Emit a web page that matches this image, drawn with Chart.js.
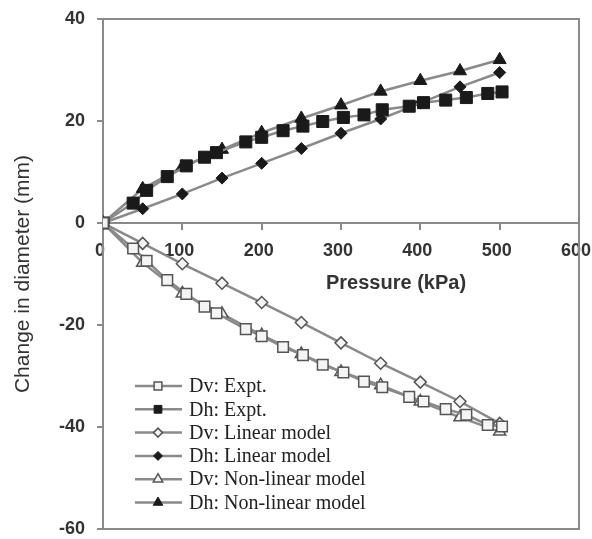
<!DOCTYPE html>
<html>
<head>
<meta charset="utf-8">
<script src="https://cdn.jsdelivr.net/npm/chart.js"></script>
<style>
  html, body { margin: 0; padding: 0; background: #fff; }
  #wrap { width: 592px; height: 539px; }
</style>
</head>
<body>
<div id="wrap"><canvas id="myChart" width="592" height="539"></canvas></div>
<script>
// pressures (kPa)
const exptPressure = [0, 38, 55, 81, 105, 128, 143, 180, 200, 227, 252, 277, 303, 329, 352, 386, 404, 432, 458, 485, 503];
const modelPressure = [0, 50, 100, 150, 200, 250, 300, 350, 400, 450, 500];

// change in diameter (mm)
const dvExpt = [0, -5.0, -7.4, -11.2, -13.9, -16.4, -17.7, -20.8, -22.2, -24.3, -25.9, -27.8, -29.3, -31.1, -32.2, -34.1, -35.0, -36.5, -37.6, -39.6, -39.9];
const dhExpt = [0, 3.9, 6.4, 9.1, 11.2, 12.9, 13.8, 15.9, 16.8, 18.1, 19.0, 19.9, 20.7, 21.2, 22.2, 22.9, 23.6, 24.1, 24.6, 25.4, 25.7];
const dvLinear = [0, -4.0, -8.0, -11.8, -15.6, -19.5, -23.5, -27.5, -31.2, -35.0, -39.3];
const dhLinear = [0, 2.8, 5.7, 8.8, 11.7, 14.6, 17.6, 20.4, 23.5, 26.7, 29.5];
const dvNonlinear = [0, -7.8, -13.8, -17.8, -22.0, -25.7, -29.2, -31.8, -35.0, -38.1, -40.9];
const dhNonlinear = [0, 6.7, 11.0, 14.4, 17.7, 20.5, 23.1, 25.8, 27.9, 29.8, 32.0];

const seriesLabels = ["Dv: Expt.", "Dh: Expt.", "Dv: Linear model", "Dh: Linear model", "Dv: Non-linear model", "Dh: Non-linear model"];
const xTicks = [0, 100, 200, 300, 400, 500, 600];
const yTicks = [-60, -40, -20, 0, 20, 40];

const lineGray = "#8a8a8a";
const dark = "#1a1a1a";

function pts(xs, ys) {
  return xs.map((x, i) => ({ x: x, y: ys[i] }));
}

function makeSet(label, xs, ys, style, filled, radius, legendRadius) {
  return {
    label: label,
    data: pts(xs, ys),
    borderColor: lineGray,
    borderWidth: 2.5,
    pointStyle: style,
    pointRadius: radius,
    pointHoverRadius: radius,
    pointBackgroundColor: filled ? dark : "#f4f4f4",
    pointBorderColor: filled ? dark : "#555",
    pointBorderWidth: filled ? 1 : 1.5,
    legendRadius: legendRadius,
    tension: 0,
    fill: false
  };
}

const datasets = [
  makeSet(seriesLabels[0], exptPressure, dvExpt, "rect", false, 7.5, 5.5),
  makeSet(seriesLabels[1], exptPressure, dhExpt, "rect", true, 8.5, 5.5),
  makeSet(seriesLabels[2], modelPressure, dvLinear, "rectRot", false, 6, 4.5),
  makeSet(seriesLabels[3], modelPressure, dhLinear, "rectRot", true, 6, 4.5),
  makeSet(seriesLabels[4], modelPressure, dvNonlinear, "triangle", false, 7, 5.5),
  makeSet(seriesLabels[5], modelPressure, dhNonlinear, "triangle", true, 7.5, 5.5)
];

// small fallback in case helpers are not exposed
function legendMarker(ctx, style, r, x, y) {
  ctx.beginPath();
  if (style === "rect") {
    const s = Math.SQRT1_2 * r;
    ctx.rect(x - s, y - s, 2 * s, 2 * s);
  } else if (style === "rectRot") {
    ctx.moveTo(x - r, y); ctx.lineTo(x, y - r); ctx.lineTo(x + r, y); ctx.lineTo(x, y + r);
    ctx.closePath();
  } else {
    ctx.moveTo(x, y - r);
    ctx.lineTo(x + r * 0.866, y + r * 0.5);
    ctx.lineTo(x - r * 0.866, y + r * 0.5);
    ctx.closePath();
  }
  ctx.fill();
  ctx.stroke();
}

// no extra room for overflowing tick labels, keep plot box fixed by layout padding
function noScalePadding(scale) {
  scale.paddingLeft = 0;
  scale.paddingRight = 0;
  scale.paddingTop = 0;
  scale.paddingBottom = 0;
}

const framePlugin = {
  id: "frame",
  beforeDatasetsDraw(chart) {
    const a = chart.chartArea;
    const ctx = chart.ctx;
    ctx.save();
    ctx.strokeStyle = "#8a8a8a";
    ctx.lineWidth = 2;
    ctx.strokeRect(a.left, a.top, a.right - a.left, a.bottom - a.top);
    ctx.restore();
  }
};

const textPlugin = {
  id: "extraText",
  afterDatasetsDraw(chart) {
    const ctx = chart.ctx;
    const a = chart.chartArea;
    const yZero = chart.scales.y.getPixelForValue(0);
    ctx.save();
    // x axis title, sits right of centre below the zero line
    ctx.font = "bold 20px 'Liberation Sans', Arial, sans-serif";
    ctx.fillStyle = "#333";
    ctx.textAlign = "left";
    ctx.textBaseline = "middle";
    ctx.fillText("Pressure (kPa)", a.left + 223, yZero + 60);

    // legend inside the plot, bottom left
    chart.data.datasets.forEach((ds, i) => {
      const y = a.top + 367 + i * 23.3;
      const x0 = a.left + 32;
      ctx.strokeStyle = ds.borderColor;
      ctx.lineWidth = ds.borderWidth;
      ctx.beginPath();
      ctx.moveTo(x0, y);
      ctx.lineTo(x0 + 47, y);
      ctx.stroke();
      ctx.fillStyle = ds.pointBackgroundColor;
      ctx.strokeStyle = ds.pointBorderColor;
      ctx.lineWidth = ds.pointBorderWidth;
      if (Chart.helpers && Chart.helpers.drawPoint) {
        Chart.helpers.drawPoint(ctx, { pointStyle: ds.pointStyle, radius: ds.legendRadius, borderWidth: ds.pointBorderWidth, rotation: 0 }, x0 + 23, y);
      } else {
        legendMarker(ctx, ds.pointStyle, ds.legendRadius, x0 + 23, y);
      }
      ctx.fillStyle = "#222";
      ctx.font = "20px 'Liberation Serif', 'Times New Roman', serif";
      ctx.textAlign = "left";
      ctx.textBaseline = "middle";
      ctx.fillText(ds.label, x0 + 54, y + 1);
    });
    ctx.restore();
  }
};

const canvas = document.getElementById("myChart");
const ctx = canvas.getContext("2d");
const chart = new Chart(ctx, {
  type: "line",
  data: { datasets: datasets },
  plugins: [framePlugin, textPlugin],
  options: {
    responsive: false,
    animation: false,
    events: [],
    layout: { padding: { left: 0, top: 19, right: 13, bottom: 10 } },
    plugins: {
      legend: { display: false },
      tooltip: { enabled: false }
    },
    scales: {
      x: {
        type: "linear",
        position: { y: 0 },
        min: 0,
        max: 600,
        afterBuildTicks: (scale) => { scale.ticks = xTicks.map(v => ({ value: v })); },
        afterFit: noScalePadding,
        ticks: {
          color: "#333",
          font: { family: "'Liberation Sans', Arial, sans-serif", size: 18, weight: "bold" },
          padding: 11,
          labelOffset: -3,
          maxRotation: 0,
          autoSkip: false
        },
        grid: { drawOnChartArea: false, drawTicks: true, tickLength: 6, color: "#8a8a8a", lineWidth: 2 },
        border: { color: "#8a8a8a", width: 2 }
      },
      y: {
        type: "linear",
        position: "left",
        min: -60,
        max: 40,
        afterBuildTicks: (scale) => { scale.ticks = yTicks.map(v => ({ value: v })); },
        afterFit: (scale) => { scale.width = 103; noScalePadding(scale); },
        ticks: {
          color: "#333",
          font: { family: "'Liberation Sans', Arial, sans-serif", size: 18, weight: "bold" },
          padding: 12
        },
        grid: { drawOnChartArea: false, drawTicks: true, tickLength: 6, color: "#8a8a8a", lineWidth: 2 },
        border: { color: "#8a8a8a", width: 2 },
        title: {
          display: true,
          text: "Change in diameter (mm)",
          color: "#333",
          font: { family: "'Liberation Sans', Arial, sans-serif", size: 21 },
          padding: { top: 11, bottom: 0 }
        }
      }
    }
  }
});
</script>
</body>
</html>
